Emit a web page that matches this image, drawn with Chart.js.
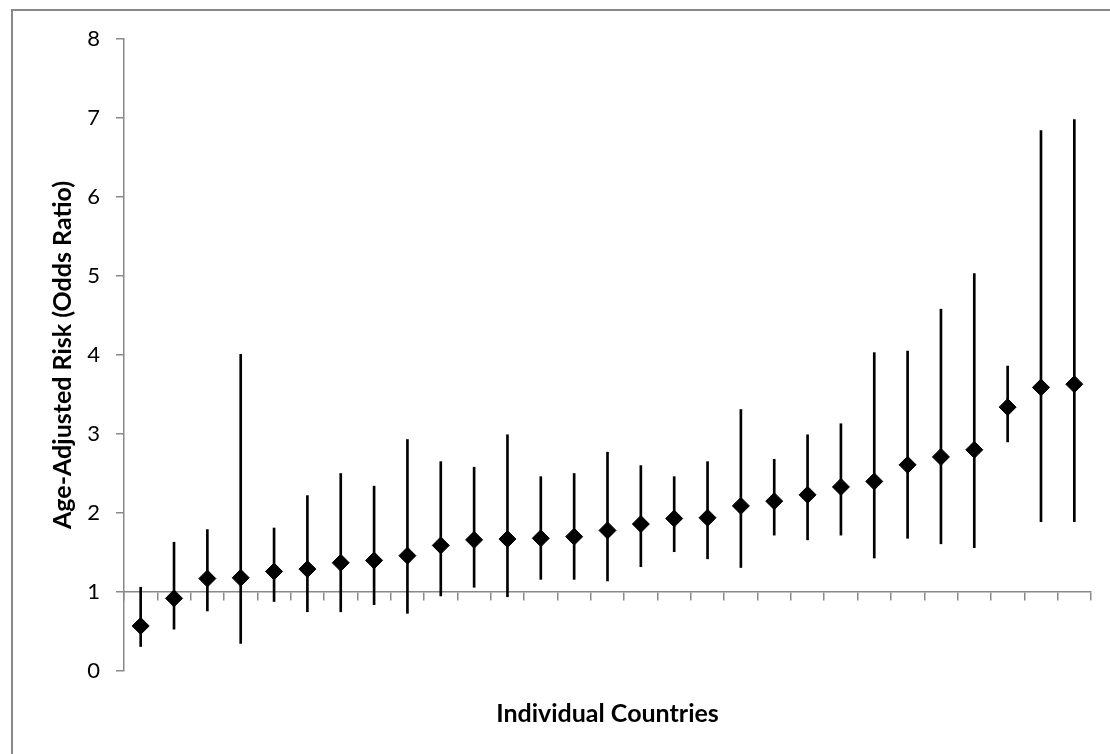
<!DOCTYPE html>
<html>
<head>
<meta charset="utf-8">
<script src="https://cdn.jsdelivr.net/npm/chart.js@4"></script>
<style>
  body { margin: 0; background: #fff; overflow: hidden; }
  #wrap { position: relative; width: 1110px; height: 754px; }
  #frame { position: absolute; left: 11px; top: 9px; width: 1200px; height: 800px;
           border-top: 2px solid #888; border-left: 2px solid #888; pointer-events: none; }
</style>
</head>
<body>
<div id="wrap">
  <canvas id="myChart" width="1110" height="754"></canvas>
  <div id="frame"></div>
</div>
<script>
var countries = ['1', '2', '3', '4', '5', '6', '7', '8', '9', '10',
  '11', '12', '13', '14', '15', '16', '17', '18', '19', '20',
  '21', '22', '23', '24', '25', '26', '27', '28', '29'];

// odds ratio per country, sorted ascending
var odds = [0.57, 0.92, 1.17, 1.18, 1.26, 1.29, 1.37, 1.40, 1.46, 1.59,
  1.66, 1.67, 1.68, 1.70, 1.78, 1.86, 1.93, 1.94, 2.09, 2.15,
  2.23, 2.33, 2.40, 2.61, 2.71, 2.80, 3.34, 3.59, 3.63];

// 95% confidence interval
var lower = [0.31, 0.53, 0.76, 0.35, 0.88, 0.75, 0.75, 0.84, 0.73, 0.95,
  1.06, 0.94, 1.16, 1.16, 1.14, 1.32, 1.51, 1.42, 1.31, 1.72,
  1.66, 1.72, 1.43, 1.68, 1.61, 1.56, 2.90, 1.89, 1.89];
var upper = [1.06, 1.63, 1.79, 4.01, 1.81, 2.22, 2.50, 2.34, 2.93, 2.65,
  2.58, 2.99, 2.46, 2.50, 2.77, 2.60, 2.46, 2.65, 3.31, 2.68,
  2.99, 3.13, 4.03, 4.05, 4.58, 5.03, 3.86, 6.84, 6.98];

var yTicks = [0, 1, 2, 3, 4, 5, 6, 7, 8];

var ranges = [];
for (var i = 0; i < countries.length; i++) {
  ranges.push([lower[i], upper[i]]);
}

var axisGray = '#898989';
var font = 'Lato, "Liberation Sans", sans-serif';

var ctx = document.getElementById('myChart').getContext('2d');
var chart = new Chart(ctx, {
  type: 'bar',
  data: {
    labels: countries,
    datasets: [{
      type: 'line',
      label: 'Odds ratio',
      data: odds,
      showLine: false,
      pointStyle: 'rectRot',
      pointRadius: 8.5,
      pointBackgroundColor: '#000',
      pointBorderColor: '#000',
      pointBorderWidth: 1,
      order: 1
    }, {
      label: '95% CI',
      data: ranges,
      backgroundColor: '#000',
      borderWidth: 0,
      barThickness: 2,
      order: 2
    }]
  },
  options: {
    responsive: false,
    animation: false,
    devicePixelRatio: 1,
    layout: {
      padding: { left: 0, top: 39, right: 19, bottom: 8 }
    },
    plugins: {
      legend: { display: false },
      tooltip: { enabled: false }
    },
    scales: {
      // category axis crossing the value axis at 1
      x: {
        position: { y: 1 },
        offset: true,
        grid: {
          offset: true,
          drawOnChartArea: false,
          drawTicks: true,
          tickLength: 8,
          color: axisGray,
          lineWidth: 1.5
        },
        border: { color: axisGray, width: 1.5 },
        ticks: { display: false }
      },
      // bottom axis only carries the title
      xTitle: {
        type: 'category',
        position: 'bottom',
        display: true,
        grid: { display: false },
        border: { display: false },
        ticks: { display: false },
        title: {
          display: true,
          text: 'Individual Countries',
          color: '#000',
          font: { family: font, size: 25, weight: 'bold' },
          padding: { top: 20, bottom: 17 }
        }
      },
      y: {
        min: 0,
        max: 8,
        afterBuildTicks: function(scale) {
          scale.ticks = yTicks.map(function(v) { return { value: v }; });
        },
        afterFit: function(scale) { scale.width = 124; },
        grid: {
          drawOnChartArea: false,
          tickLength: 8,
          color: axisGray,
          lineWidth: 1.5
        },
        border: { color: axisGray, width: 1.5 },
        ticks: {
          color: '#000',
          padding: 16,
          font: { family: font, size: 22 }
        },
        title: {
          display: true,
          text: 'Age-Adjusted Risk (Odds Ratio)',
          color: '#000',
          font: { family: font, size: 25, weight: 'bold' },
          padding: { top: 48, bottom: 0 }
        }
      }
    }
  }
});
</script>
</body>
</html>
